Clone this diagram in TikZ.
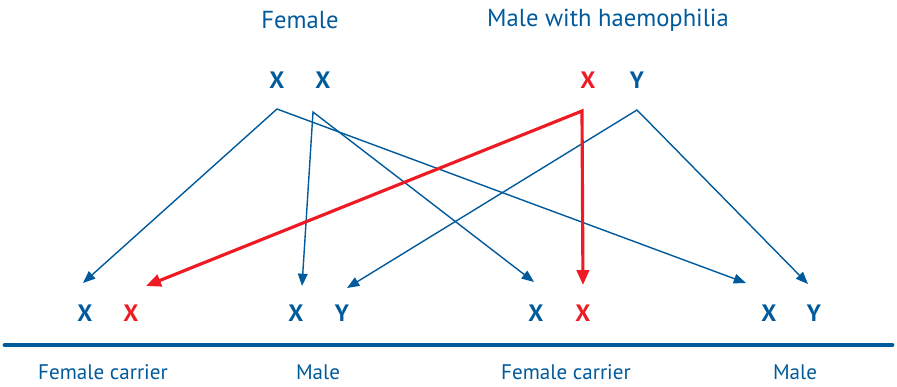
\documentclass[tikz,border=0pt]{standalone}
\usepackage{fontspec}
\setmainfont{PT Sans}
\usetikzlibrary{arrows.meta}
\definecolor{chromblue}{HTML}{005A9C}
\definecolor{chromred}{HTML}{ED1C24}
\tikzset{
  allele/.style={font=\bfseries\fontsize{13.5}{13.5}\selectfont,text=chromblue,inner sep=0pt},
  faulty allele/.style={allele,text=chromred},
  caption/.style={font=\fontsize{14}{14}\selectfont,text=chromblue,inner sep=0pt},
  small caption/.style={caption,font=\fontsize{12}{12}\selectfont},
  pass/.style={draw=chromblue,line width=0.8pt,line join=miter,
    {Triangle[length=7pt,width=5.5pt]}-{Triangle[length=7pt,width=5.5pt]}},
  faulty pass/.style={draw=chromred,line width=1.8pt,line join=miter,
    {Triangle[length=8.5pt,width=7pt]}-{Triangle[length=8.5pt,width=7pt]}},
  baseline rule/.style={draw=chromblue,line width=2.8pt,line cap=round}
}
\begin{document}
\begin{tikzpicture}[x=0.02cm,y=-0.02cm]
  \useasboundingbox (0,0) rectangle (897,386);
  % parents
  \node[caption] (mum) at (300,20) {Female};
  \node[caption] (dad) at (608,20) {Male with haemophilia};
  \node[allele] (mx1) at (277,80) {X};
  \node[allele] (mx2) at (323,80) {X};
  \node[faulty allele] (dx) at (588,80) {X};
  \node[allele] (dy) at (637,80) {Y};
  \coordinate (mx1s) at (277,109);
  \coordinate (mx2s) at (313,112);
  \coordinate (dxs) at (582,111);
  \coordinate (dys) at (637,110);
  % children
  \node[allele] (c1a) at (85,313) {X};
  \node[faulty allele] (c1b) at (131,313) {X};
  \node[allele] (c2a) at (296,313) {X};
  \node[allele] (c2b) at (342,313) {Y};
  \node[allele] (c3a) at (536,313) {X};
  \node[faulty allele] (c3b) at (583,313) {X};
  \node[allele] (c4a) at (769,313) {X};
  \node[allele] (c4b) at (814,313) {Y};
  \foreach \n/\x/\y in {c1a/83/283,c1b/146/286,c2a/302/286,c2b/347/288,
                        c3a/534/282,c3b/583/285,c4a/746/283,c4b/808/284}
    \coordinate (\n t) at (\x,\y);
  % inheritance
  \draw[pass] (c1at) -- (mx1s) -- (c4at);
  \draw[pass] (c2at) -- (mx2s) -- (c3at);
  \draw[pass] (c2bt) -- (dys) -- (c4bt);
  \draw[faulty pass] (c1bt) -- (dxs) -- (c3bt);
  \draw[baseline rule] (5,345) coordinate (r0) -- (892,345) coordinate (r1);
  \node[small caption] (k1) at (103,372) {Female carrier};
  \node[small caption] (k2) at (318,372) {Male};
  \node[small caption] (k3) at (566,372) {Female carrier};
  \node[small caption] (k4) at (795,372) {Male};
\end{tikzpicture}
\end{document}
